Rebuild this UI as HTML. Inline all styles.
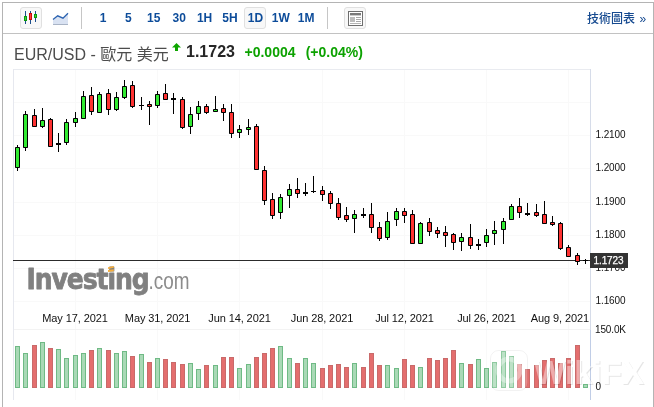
<!DOCTYPE html>
<html lang="zh-Hant">
<head>
<meta charset="utf-8">
<title>EUR/USD - 歐元 美元</title>
<style>
html,body{margin:0;padding:0;background:#fff;}
body{width:654px;height:407px;overflow:hidden;position:relative;font-family:"Liberation Sans","Noto Sans CJK TC",sans-serif;}
#frame{position:absolute;left:2px;top:2px;width:650px;height:420px;border:1px solid #b4b4b4;box-sizing:content-box;}
#bar{position:absolute;left:3px;top:3px;width:650px;height:30px;border-bottom:1px solid #c2c2c2;background:#fff;}
.btn{position:absolute;top:4px;width:20px;height:20px;border:1px solid #e0e0e0;border-radius:3px;background:#f8f8f8;}
.tf{position:absolute;top:4px;width:20px;height:20px;border:1px solid transparent;border-radius:3px;font-weight:bold;font-size:12px;line-height:21px;text-align:center;color:#0d4c9a;text-decoration:none;}
.tf.on{border-color:#e0e0e0;background:#f8f8f8;}
.sep{position:absolute;top:4px;width:1px;height:22px;background:#c6c6c6;}
#tech{position:absolute;left:584px;top:7px;font-size:12px;font-weight:500;line-height:18px;color:#164a90;white-space:nowrap;}
#tech i{position:absolute;left:52.5px;top:0;font-style:normal;}
#title{position:absolute;left:14px;top:40px;height:24px;white-space:nowrap;}
#title .nm{position:absolute;left:0;top:3px;font-size:16px;line-height:24px;color:#4c4c4c;}
#title .arr{position:absolute;left:158px;top:3px;width:9px;height:8px;}
#title .px{position:absolute;left:172px;top:0px;font-size:16px;font-weight:bold;line-height:24px;color:#262626;}
#title .ch{position:absolute;left:230.5px;top:0;font-size:14px;font-weight:bold;line-height:24px;color:#0ca200;}
#title .pc{position:absolute;left:291.7px;top:0;font-size:14px;font-weight:bold;line-height:24px;color:#0ca200;}
#chart{position:absolute;left:0;top:0;}
svg{display:block;}
</style>
</head>
<body>
<div id="frame"></div>
<div id="bar">
  <span class="btn" style="left:17px"><svg width="20" height="20" viewBox="0 0 20 20"><g shape-rendering="crispEdges"><rect x="4" y="3" width="1" height="13" fill="#1d4f8c"/><rect x="9" y="3" width="1" height="13" fill="#1d4f8c"/><rect x="14" y="3" width="1" height="11" fill="#1d4f8c"/><rect x="3" y="8" width="3" height="5" fill="#0a9a0a" /><rect x="4" y="9" width="1" height="3" fill="#3fd03f"/><rect x="8" y="5" width="3" height="7" fill="#cc0808"/><rect x="9" y="6" width="1" height="5" fill="#ff3a3a"/><rect x="13" y="6" width="3" height="4" fill="#0a9a0a"/><rect x="14" y="7" width="1" height="2" fill="#3fd03f"/></g></svg></span>
  <span class="ico" style="position:absolute;left:49px;top:8px"><svg width="18" height="15" viewBox="0 0 18 15"><path d="M1 8.5 L5.7 4.8 L11 7.2 L16 2.2 L16 14 L1 14 Z" fill="#d9e2f2"/><path d="M1 8.5 L5.7 4.8 L11 7.2 L16 2.2" fill="none" stroke="#2a62b0" stroke-width="1.3"/><rect x="1" y="13" width="15" height="1" fill="#a9b4c6"/></svg></span>
  <span class="sep" style="left:78px"></span>
  <a class="tf" style="left:89.0px">1</a><a class="tf" style="left:114.4px">5</a><a class="tf" style="left:139.8px">15</a><a class="tf" style="left:165.2px">30</a><a class="tf" style="left:190.6px">1H</a><a class="tf" style="left:216.0px">5H</a><a class="tf on" style="left:241.4px">1D</a><a class="tf" style="left:266.8px">1W</a><a class="tf" style="left:292.2px">1M</a>
  <span class="sep" style="left:324px"></span>
  <span class="btn" style="left:341px"><svg width="20" height="20" viewBox="0 0 20 20"><rect x="3.5" y="3.5" width="14" height="14" fill="#fff" stroke="#6e6e6e"/><rect x="5" y="5" width="11" height="2.4" fill="#7a7a7a"/><rect x="5" y="9" width="5" height="5" fill="#bdbdbd"/><rect x="11" y="9" width="5" height="1" fill="#a8a8a8"/><rect x="11" y="11" width="5" height="1" fill="#a8a8a8"/><rect x="11" y="13" width="5" height="1" fill="#a8a8a8"/><rect x="5" y="15" width="11" height="1" fill="#b5b5b5"/></svg></span>
  <a id="tech">技術圖表<i>»</i></a>
</div>
<div id="title">
  <span class="nm">EUR/USD - 歐元 美元</span>
  <span class="arr"><svg width="9" height="8" viewBox="0 0 9 8"><path d="M4.5 0 L9 4.5 L6 4.5 L6 8 L3 8 L3 4.5 L0 4.5 Z" fill="#0ea600"/></svg></span>
  <span class="px">1.1723</span>
  <span class="ch">+0.0004</span>
  <span class="pc">(+0.04%)</span>
</div>
<svg id="chart" width="654" height="407" viewBox="0 0 654 407">
<rect x="75" y="70" width="1" height="330" fill="#f9f9f9"/>
<rect x="157" y="70" width="1" height="330" fill="#f9f9f9"/>
<rect x="239" y="70" width="1" height="330" fill="#f9f9f9"/>
<rect x="322" y="70" width="1" height="330" fill="#f9f9f9"/>
<rect x="404" y="70" width="1" height="330" fill="#f9f9f9"/>
<rect x="486" y="70" width="1" height="330" fill="#f9f9f9"/>
<rect x="568" y="70" width="1" height="330" fill="#f9f9f9"/>
<rect x="14" y="102" width="576" height="1" fill="#f9f9f9"/>
<rect x="14" y="135" width="576" height="1" fill="#f9f9f9"/>
<rect x="14" y="168" width="576" height="1" fill="#f9f9f9"/>
<rect x="14" y="202" width="576" height="1" fill="#f9f9f9"/>
<rect x="14" y="235" width="576" height="1" fill="#f9f9f9"/>
<rect x="14" y="268" width="576" height="1" fill="#f9f9f9"/>
<rect x="14" y="301" width="576" height="1" fill="#f9f9f9"/>
<rect x="13" y="329" width="577" height="1" fill="#f3f3f3"/>
<rect x="13" y="69" width="578" height="1" fill="#e9ebf0"/>
<rect x="13" y="69" width="1" height="331" fill="#e6e8ef"/>
<rect x="590" y="69" width="1" height="261" fill="#d6dce9"/>
<rect x="590" y="330" width="1" height="70" fill="#c0cde6"/>
<rect x="15.5" y="346.5" width="4" height="41" fill="#a9d9b6" stroke="#6fba85" stroke-width="1"/>
<rect x="23.5" y="353.5" width="4" height="34" fill="#a9d9b6" stroke="#6fba85" stroke-width="1"/>
<rect x="32.5" y="345.5" width="4" height="42" fill="#e46e6e" stroke="#c96a6a" stroke-width="1"/>
<rect x="40.5" y="342.5" width="4" height="45" fill="#a9d9b6" stroke="#6fba85" stroke-width="1"/>
<rect x="48.5" y="348.5" width="4" height="39" fill="#e46e6e" stroke="#c96a6a" stroke-width="1"/>
<rect x="56.5" y="349.5" width="4" height="38" fill="#a9d9b6" stroke="#6fba85" stroke-width="1"/>
<rect x="64.5" y="358.5" width="4" height="29" fill="#a9d9b6" stroke="#6fba85" stroke-width="1"/>
<rect x="73.5" y="355.5" width="4" height="32" fill="#a9d9b6" stroke="#6fba85" stroke-width="1"/>
<rect x="81.5" y="353.5" width="4" height="34" fill="#a9d9b6" stroke="#6fba85" stroke-width="1"/>
<rect x="89.5" y="350.5" width="4" height="37" fill="#e46e6e" stroke="#c96a6a" stroke-width="1"/>
<rect x="97.5" y="348.5" width="4" height="39" fill="#a9d9b6" stroke="#6fba85" stroke-width="1"/>
<rect x="106.5" y="350.5" width="4" height="37" fill="#e46e6e" stroke="#c96a6a" stroke-width="1"/>
<rect x="114.5" y="353.5" width="4" height="34" fill="#a9d9b6" stroke="#6fba85" stroke-width="1"/>
<rect x="122.5" y="351.5" width="4" height="36" fill="#a9d9b6" stroke="#6fba85" stroke-width="1"/>
<rect x="130.5" y="356.5" width="4" height="31" fill="#e46e6e" stroke="#c96a6a" stroke-width="1"/>
<rect x="139.5" y="354.5" width="4" height="33" fill="#a9d9b6" stroke="#6fba85" stroke-width="1"/>
<rect x="147.5" y="362.5" width="4" height="25" fill="#e46e6e" stroke="#c96a6a" stroke-width="1"/>
<rect x="155.5" y="358.5" width="4" height="29" fill="#a9d9b6" stroke="#6fba85" stroke-width="1"/>
<rect x="163.5" y="359.5" width="4" height="28" fill="#e46e6e" stroke="#c96a6a" stroke-width="1"/>
<rect x="171.5" y="362.5" width="4" height="25" fill="#e46e6e" stroke="#c96a6a" stroke-width="1"/>
<rect x="180.5" y="364.5" width="4" height="23" fill="#e46e6e" stroke="#c96a6a" stroke-width="1"/>
<rect x="188.5" y="363.5" width="4" height="24" fill="#a9d9b6" stroke="#6fba85" stroke-width="1"/>
<rect x="196.5" y="369.5" width="4" height="18" fill="#a9d9b6" stroke="#6fba85" stroke-width="1"/>
<rect x="204.5" y="365.5" width="4" height="22" fill="#e46e6e" stroke="#c96a6a" stroke-width="1"/>
<rect x="213.5" y="365.5" width="4" height="22" fill="#a9d9b6" stroke="#6fba85" stroke-width="1"/>
<rect x="221.5" y="357.5" width="4" height="30" fill="#e46e6e" stroke="#c96a6a" stroke-width="1"/>
<rect x="229.5" y="357.5" width="4" height="30" fill="#e46e6e" stroke="#c96a6a" stroke-width="1"/>
<rect x="237.5" y="368.5" width="4" height="19" fill="#a9d9b6" stroke="#6fba85" stroke-width="1"/>
<rect x="246.5" y="364.5" width="4" height="23" fill="#a9d9b6" stroke="#6fba85" stroke-width="1"/>
<rect x="254.5" y="357.5" width="4" height="30" fill="#e46e6e" stroke="#c96a6a" stroke-width="1"/>
<rect x="262.5" y="353.5" width="4" height="34" fill="#e46e6e" stroke="#c96a6a" stroke-width="1"/>
<rect x="270.5" y="348.5" width="4" height="39" fill="#e46e6e" stroke="#c96a6a" stroke-width="1"/>
<rect x="278.5" y="346.5" width="4" height="41" fill="#a9d9b6" stroke="#6fba85" stroke-width="1"/>
<rect x="287.5" y="358.5" width="4" height="29" fill="#a9d9b6" stroke="#6fba85" stroke-width="1"/>
<rect x="295.5" y="363.5" width="4" height="24" fill="#e46e6e" stroke="#c96a6a" stroke-width="1"/>
<rect x="303.5" y="358.5" width="4" height="29" fill="#a9d9b6" stroke="#6fba85" stroke-width="1"/>
<rect x="311.5" y="363.5" width="4" height="24" fill="#a9d9b6" stroke="#6fba85" stroke-width="1"/>
<rect x="320.5" y="368.5" width="4" height="19" fill="#e46e6e" stroke="#c96a6a" stroke-width="1"/>
<rect x="328.5" y="365.5" width="4" height="22" fill="#e46e6e" stroke="#c96a6a" stroke-width="1"/>
<rect x="336.5" y="364.5" width="4" height="23" fill="#e46e6e" stroke="#c96a6a" stroke-width="1"/>
<rect x="344.5" y="367.5" width="4" height="20" fill="#e46e6e" stroke="#c96a6a" stroke-width="1"/>
<rect x="352.5" y="363.5" width="4" height="24" fill="#a9d9b6" stroke="#6fba85" stroke-width="1"/>
<rect x="361.5" y="367.5" width="4" height="20" fill="#e46e6e" stroke="#c96a6a" stroke-width="1"/>
<rect x="369.5" y="353.5" width="4" height="34" fill="#e46e6e" stroke="#c96a6a" stroke-width="1"/>
<rect x="377.5" y="365.5" width="4" height="22" fill="#e46e6e" stroke="#c96a6a" stroke-width="1"/>
<rect x="385.5" y="365.5" width="4" height="22" fill="#a9d9b6" stroke="#6fba85" stroke-width="1"/>
<rect x="394.5" y="368.5" width="4" height="19" fill="#a9d9b6" stroke="#6fba85" stroke-width="1"/>
<rect x="402.5" y="359.5" width="4" height="28" fill="#e46e6e" stroke="#c96a6a" stroke-width="1"/>
<rect x="410.5" y="365.5" width="4" height="22" fill="#e46e6e" stroke="#c96a6a" stroke-width="1"/>
<rect x="418.5" y="367.5" width="4" height="20" fill="#a9d9b6" stroke="#6fba85" stroke-width="1"/>
<rect x="427.5" y="358.5" width="4" height="29" fill="#e46e6e" stroke="#c96a6a" stroke-width="1"/>
<rect x="435.5" y="360.5" width="4" height="27" fill="#e46e6e" stroke="#c96a6a" stroke-width="1"/>
<rect x="443.5" y="358.5" width="4" height="29" fill="#e46e6e" stroke="#c96a6a" stroke-width="1"/>
<rect x="451.5" y="350.5" width="4" height="37" fill="#e46e6e" stroke="#c96a6a" stroke-width="1"/>
<rect x="459.5" y="363.5" width="4" height="24" fill="#a9d9b6" stroke="#6fba85" stroke-width="1"/>
<rect x="468.5" y="364.5" width="4" height="23" fill="#e46e6e" stroke="#c96a6a" stroke-width="1"/>
<rect x="476.5" y="359.5" width="4" height="28" fill="#a9d9b6" stroke="#6fba85" stroke-width="1"/>
<rect x="484.5" y="368.5" width="4" height="19" fill="#a9d9b6" stroke="#6fba85" stroke-width="1"/>
<rect x="492.5" y="362.5" width="4" height="25" fill="#a9d9b6" stroke="#6fba85" stroke-width="1"/>
<rect x="501.5" y="351.5" width="4" height="36" fill="#a9d9b6" stroke="#6fba85" stroke-width="1"/>
<rect x="509.5" y="356.5" width="4" height="31" fill="#a9d9b6" stroke="#6fba85" stroke-width="1"/>
<rect x="517.5" y="364.5" width="4" height="23" fill="#e46e6e" stroke="#c96a6a" stroke-width="1"/>
<rect x="525.5" y="369.5" width="4" height="18" fill="#e46e6e" stroke="#c96a6a" stroke-width="1"/>
<rect x="534.5" y="365.5" width="4" height="22" fill="#e46e6e" stroke="#c96a6a" stroke-width="1"/>
<rect x="542.5" y="360.5" width="4" height="27" fill="#e46e6e" stroke="#c96a6a" stroke-width="1"/>
<rect x="550.5" y="358.5" width="4" height="29" fill="#e46e6e" stroke="#c96a6a" stroke-width="1"/>
<rect x="558.5" y="363.5" width="4" height="24" fill="#e46e6e" stroke="#c96a6a" stroke-width="1"/>
<rect x="566.5" y="358.5" width="4" height="29" fill="#e46e6e" stroke="#c96a6a" stroke-width="1"/>
<rect x="575.5" y="345.5" width="4" height="42" fill="#e46e6e" stroke="#c96a6a" stroke-width="1"/>
<rect x="583.5" y="384.5" width="4" height="3" fill="#a9d9b6" stroke="#6fba85" stroke-width="1"/>
<g id="logo"><text transform="translate(26.4,288.9) scale(0.897,1)" x="0" y="0" font-family="'DejaVu Sans','Liberation Sans',sans-serif" font-weight="bold" font-size="28" letter-spacing="-1.2" fill="#808080" stroke="#808080" stroke-width="0.8" stroke-linejoin="round">Investing</text><text x="148.5" y="288.9" font-family="'Liberation Sans',sans-serif" font-size="24" fill="#8c8c8c" textLength="41" lengthAdjust="spacingAndGlyphs">.com</text><path d="M108 267.2 L113.8 266 L113.8 267.8 L108 269 Z M108 270 L113.8 269.2 L113.8 271.3 L108 272 Z" fill="#f6ae3c"/></g>
<rect x="13" y="260" width="577" height="1" fill="#2b2b2b"/>
<rect x="17" y="145" width="1" height="26" fill="#000"/>
<rect x="15" y="147" width="5" height="21" rx="0.8" fill="#000"/>
<rect x="16" y="148" width="3" height="19" fill="#32ea32"/>
<rect x="25" y="111" width="1" height="40" fill="#000"/>
<rect x="23" y="114" width="5" height="34" rx="0.8" fill="#000"/>
<rect x="24" y="115" width="3" height="32" fill="#32ea32"/>
<rect x="34" y="109" width="1" height="18" fill="#000"/>
<rect x="32" y="115" width="5" height="12" rx="0.8" fill="#000"/>
<rect x="33" y="116" width="3" height="10" fill="#fe3232"/>
<rect x="42" y="108" width="1" height="20" fill="#000"/>
<rect x="40" y="120" width="5" height="7" rx="0.8" fill="#000"/>
<rect x="41" y="121" width="3" height="5" fill="#32ea32"/>
<rect x="50" y="118" width="1" height="29" fill="#000"/>
<rect x="48" y="119" width="5" height="28" rx="0.8" fill="#000"/>
<rect x="49" y="120" width="3" height="26" fill="#fe3232"/>
<rect x="58" y="133" width="1" height="19" fill="#000"/>
<rect x="56" y="143" width="5" height="2" fill="#000"/>
<rect x="66" y="119" width="1" height="26" fill="#000"/>
<rect x="64" y="122" width="5" height="21" rx="0.8" fill="#000"/>
<rect x="65" y="123" width="3" height="19" fill="#32ea32"/>
<rect x="75" y="112" width="1" height="15" fill="#000"/>
<rect x="73" y="118" width="5" height="5" rx="0.8" fill="#000"/>
<rect x="74" y="119" width="3" height="3" fill="#32ea32"/>
<rect x="83" y="91" width="1" height="28" fill="#000"/>
<rect x="81" y="96" width="5" height="23" rx="0.8" fill="#000"/>
<rect x="82" y="97" width="3" height="21" fill="#32ea32"/>
<rect x="91" y="87" width="1" height="28" fill="#000"/>
<rect x="89" y="95" width="5" height="17" rx="0.8" fill="#000"/>
<rect x="90" y="96" width="3" height="15" fill="#fe3232"/>
<rect x="99" y="92" width="1" height="21" fill="#000"/>
<rect x="97" y="94" width="5" height="19" rx="0.8" fill="#000"/>
<rect x="98" y="95" width="3" height="17" fill="#32ea32"/>
<rect x="108" y="89" width="1" height="26" fill="#000"/>
<rect x="106" y="93" width="5" height="17" rx="0.8" fill="#000"/>
<rect x="107" y="94" width="3" height="15" fill="#fe3232"/>
<rect x="116" y="92" width="1" height="19" fill="#000"/>
<rect x="114" y="97" width="5" height="13" rx="0.8" fill="#000"/>
<rect x="115" y="98" width="3" height="11" fill="#32ea32"/>
<rect x="124" y="80" width="1" height="19" fill="#000"/>
<rect x="122" y="86" width="5" height="12" rx="0.8" fill="#000"/>
<rect x="123" y="87" width="3" height="10" fill="#32ea32"/>
<rect x="132" y="81" width="1" height="27" fill="#000"/>
<rect x="130" y="85" width="5" height="22" rx="0.8" fill="#000"/>
<rect x="131" y="86" width="3" height="20" fill="#fe3232"/>
<rect x="141" y="97" width="1" height="13" fill="#000"/>
<rect x="139" y="105" width="5" height="1" fill="#000"/>
<rect x="149" y="101" width="1" height="24" fill="#000"/>
<rect x="147" y="104" width="5" height="3" rx="0.8" fill="#000"/>
<rect x="148" y="105" width="3" height="1" fill="#fe3232"/>
<rect x="157" y="91" width="1" height="17" fill="#000"/>
<rect x="155" y="94" width="5" height="12" rx="0.8" fill="#000"/>
<rect x="156" y="95" width="3" height="10" fill="#32ea32"/>
<rect x="165" y="84" width="1" height="16" fill="#000"/>
<rect x="163" y="93" width="5" height="7" rx="0.8" fill="#000"/>
<rect x="164" y="94" width="3" height="5" fill="#fe3232"/>
<rect x="173" y="93" width="1" height="21" fill="#000"/>
<rect x="171" y="98" width="5" height="2" fill="#000"/>
<rect x="182" y="97" width="1" height="32" fill="#000"/>
<rect x="180" y="99" width="5" height="29" rx="0.8" fill="#000"/>
<rect x="181" y="100" width="3" height="27" fill="#fe3232"/>
<rect x="190" y="107" width="1" height="27" fill="#000"/>
<rect x="188" y="114" width="5" height="13" rx="0.8" fill="#000"/>
<rect x="189" y="115" width="3" height="11" fill="#32ea32"/>
<rect x="198" y="101" width="1" height="19" fill="#000"/>
<rect x="196" y="106" width="5" height="8" rx="0.8" fill="#000"/>
<rect x="197" y="107" width="3" height="6" fill="#32ea32"/>
<rect x="206" y="104" width="1" height="10" fill="#000"/>
<rect x="204" y="106" width="5" height="7" rx="0.8" fill="#000"/>
<rect x="205" y="107" width="3" height="5" fill="#fe3232"/>
<rect x="215" y="96" width="1" height="16" fill="#000"/>
<rect x="213" y="109" width="5" height="3" rx="0.8" fill="#000"/>
<rect x="214" y="110" width="3" height="1" fill="#32ea32"/>
<rect x="223" y="104" width="1" height="17" fill="#000"/>
<rect x="221" y="108" width="5" height="5" rx="0.8" fill="#000"/>
<rect x="222" y="109" width="3" height="3" fill="#fe3232"/>
<rect x="231" y="104" width="1" height="34" fill="#000"/>
<rect x="229" y="112" width="5" height="22" rx="0.8" fill="#000"/>
<rect x="230" y="113" width="3" height="20" fill="#fe3232"/>
<rect x="239" y="125" width="1" height="13" fill="#000"/>
<rect x="237" y="129" width="5" height="4" rx="0.8" fill="#000"/>
<rect x="238" y="130" width="3" height="2" fill="#32ea32"/>
<rect x="248" y="119" width="1" height="16" fill="#000"/>
<rect x="246" y="127" width="5" height="3" rx="0.8" fill="#000"/>
<rect x="247" y="128" width="3" height="1" fill="#32ea32"/>
<rect x="256" y="124" width="1" height="46" fill="#000"/>
<rect x="254" y="126" width="5" height="44" rx="0.8" fill="#000"/>
<rect x="255" y="127" width="3" height="42" fill="#fe3232"/>
<rect x="264" y="166" width="1" height="39" fill="#000"/>
<rect x="262" y="170" width="5" height="31" rx="0.8" fill="#000"/>
<rect x="263" y="171" width="3" height="29" fill="#fe3232"/>
<rect x="272" y="193" width="1" height="26" fill="#000"/>
<rect x="270" y="199" width="5" height="17" rx="0.8" fill="#000"/>
<rect x="271" y="200" width="3" height="15" fill="#fe3232"/>
<rect x="280" y="194" width="1" height="25" fill="#000"/>
<rect x="278" y="197" width="5" height="16" rx="0.8" fill="#000"/>
<rect x="279" y="198" width="3" height="14" fill="#32ea32"/>
<rect x="289" y="184" width="1" height="24" fill="#000"/>
<rect x="287" y="189" width="5" height="7" rx="0.8" fill="#000"/>
<rect x="288" y="190" width="3" height="5" fill="#32ea32"/>
<rect x="297" y="178" width="1" height="20" fill="#000"/>
<rect x="295" y="189" width="5" height="5" rx="0.8" fill="#000"/>
<rect x="296" y="190" width="3" height="3" fill="#fe3232"/>
<rect x="305" y="183" width="1" height="13" fill="#000"/>
<rect x="303" y="192" width="5" height="2" fill="#000"/>
<rect x="313" y="176" width="1" height="17" fill="#000"/>
<rect x="311" y="191" width="5" height="1" fill="#000"/>
<rect x="322" y="186" width="1" height="15" fill="#000"/>
<rect x="320" y="190" width="5" height="5" rx="0.8" fill="#000"/>
<rect x="321" y="191" width="3" height="3" fill="#fe3232"/>
<rect x="330" y="191" width="1" height="18" fill="#000"/>
<rect x="328" y="193" width="5" height="11" rx="0.8" fill="#000"/>
<rect x="329" y="194" width="3" height="9" fill="#fe3232"/>
<rect x="338" y="198" width="1" height="22" fill="#000"/>
<rect x="336" y="203" width="5" height="15" rx="0.8" fill="#000"/>
<rect x="337" y="204" width="3" height="13" fill="#fe3232"/>
<rect x="346" y="207" width="1" height="15" fill="#000"/>
<rect x="344" y="215" width="5" height="5" rx="0.8" fill="#000"/>
<rect x="345" y="216" width="3" height="3" fill="#fe3232"/>
<rect x="354" y="210" width="1" height="23" fill="#000"/>
<rect x="352" y="214" width="5" height="5" rx="0.8" fill="#000"/>
<rect x="353" y="215" width="3" height="3" fill="#32ea32"/>
<rect x="363" y="208" width="1" height="10" fill="#000"/>
<rect x="361" y="214" width="5" height="2" fill="#000"/>
<rect x="371" y="203" width="1" height="30" fill="#000"/>
<rect x="369" y="214" width="5" height="14" rx="0.8" fill="#000"/>
<rect x="370" y="215" width="3" height="12" fill="#fe3232"/>
<rect x="379" y="222" width="1" height="19" fill="#000"/>
<rect x="377" y="227" width="5" height="12" rx="0.8" fill="#000"/>
<rect x="378" y="228" width="3" height="10" fill="#fe3232"/>
<rect x="387" y="212" width="1" height="28" fill="#000"/>
<rect x="385" y="221" width="5" height="17" rx="0.8" fill="#000"/>
<rect x="386" y="222" width="3" height="15" fill="#32ea32"/>
<rect x="396" y="208" width="1" height="18" fill="#000"/>
<rect x="394" y="211" width="5" height="9" rx="0.8" fill="#000"/>
<rect x="395" y="212" width="3" height="7" fill="#32ea32"/>
<rect x="404" y="208" width="1" height="15" fill="#000"/>
<rect x="402" y="211" width="5" height="5" rx="0.8" fill="#000"/>
<rect x="403" y="212" width="3" height="3" fill="#fe3232"/>
<rect x="412" y="210" width="1" height="34" fill="#000"/>
<rect x="410" y="214" width="5" height="30" rx="0.8" fill="#000"/>
<rect x="411" y="215" width="3" height="28" fill="#fe3232"/>
<rect x="420" y="222" width="1" height="22" fill="#000"/>
<rect x="418" y="223" width="5" height="21" rx="0.8" fill="#000"/>
<rect x="419" y="224" width="3" height="19" fill="#32ea32"/>
<rect x="429" y="218" width="1" height="18" fill="#000"/>
<rect x="427" y="222" width="5" height="10" rx="0.8" fill="#000"/>
<rect x="428" y="223" width="3" height="8" fill="#fe3232"/>
<rect x="437" y="227" width="1" height="11" fill="#000"/>
<rect x="435" y="230" width="5" height="4" rx="0.8" fill="#000"/>
<rect x="436" y="231" width="3" height="2" fill="#fe3232"/>
<rect x="445" y="226" width="1" height="21" fill="#000"/>
<rect x="443" y="232" width="5" height="4" rx="0.8" fill="#000"/>
<rect x="444" y="233" width="3" height="2" fill="#fe3232"/>
<rect x="453" y="233" width="1" height="17" fill="#000"/>
<rect x="451" y="234" width="5" height="9" rx="0.8" fill="#000"/>
<rect x="452" y="235" width="3" height="7" fill="#fe3232"/>
<rect x="461" y="233" width="1" height="18" fill="#000"/>
<rect x="459" y="237" width="5" height="5" rx="0.8" fill="#000"/>
<rect x="460" y="238" width="3" height="3" fill="#32ea32"/>
<rect x="470" y="224" width="1" height="25" fill="#000"/>
<rect x="468" y="237" width="5" height="9" rx="0.8" fill="#000"/>
<rect x="469" y="238" width="3" height="7" fill="#fe3232"/>
<rect x="478" y="239" width="1" height="11" fill="#000"/>
<rect x="476" y="244" width="5" height="2" fill="#000"/>
<rect x="486" y="229" width="1" height="18" fill="#000"/>
<rect x="484" y="235" width="5" height="8" rx="0.8" fill="#000"/>
<rect x="485" y="236" width="3" height="6" fill="#32ea32"/>
<rect x="494" y="221" width="1" height="24" fill="#000"/>
<rect x="492" y="230" width="5" height="4" rx="0.8" fill="#000"/>
<rect x="493" y="231" width="3" height="2" fill="#32ea32"/>
<rect x="503" y="218" width="1" height="26" fill="#000"/>
<rect x="501" y="221" width="5" height="9" rx="0.8" fill="#000"/>
<rect x="502" y="222" width="3" height="7" fill="#32ea32"/>
<rect x="511" y="204" width="1" height="16" fill="#000"/>
<rect x="509" y="206" width="5" height="14" rx="0.8" fill="#000"/>
<rect x="510" y="207" width="3" height="12" fill="#32ea32"/>
<rect x="519" y="198" width="1" height="20" fill="#000"/>
<rect x="517" y="206" width="5" height="7" rx="0.8" fill="#000"/>
<rect x="518" y="207" width="3" height="5" fill="#fe3232"/>
<rect x="527" y="203" width="1" height="13" fill="#000"/>
<rect x="525" y="213" width="5" height="2" fill="#000"/>
<rect x="536" y="204" width="1" height="13" fill="#000"/>
<rect x="534" y="212" width="5" height="4" rx="0.8" fill="#000"/>
<rect x="535" y="213" width="3" height="2" fill="#fe3232"/>
<rect x="544" y="201" width="1" height="23" fill="#000"/>
<rect x="542" y="214" width="5" height="10" rx="0.8" fill="#000"/>
<rect x="543" y="215" width="3" height="8" fill="#fe3232"/>
<rect x="552" y="216" width="1" height="10" fill="#000"/>
<rect x="550" y="222" width="5" height="3" rx="0.8" fill="#000"/>
<rect x="551" y="223" width="3" height="1" fill="#fe3232"/>
<rect x="560" y="222" width="1" height="28" fill="#000"/>
<rect x="558" y="223" width="5" height="26" rx="0.8" fill="#000"/>
<rect x="559" y="224" width="3" height="24" fill="#fe3232"/>
<rect x="568" y="245" width="1" height="12" fill="#000"/>
<rect x="566" y="247" width="5" height="10" rx="0.8" fill="#000"/>
<rect x="567" y="248" width="3" height="8" fill="#fe3232"/>
<rect x="577" y="253" width="1" height="12" fill="#000"/>
<rect x="575" y="255" width="5" height="7" rx="0.8" fill="#000"/>
<rect x="576" y="256" width="3" height="5" fill="#fe3232"/>
<rect x="585" y="259" width="1" height="5" fill="#000"/>
<rect x="583" y="260" width="5" height="1" fill="#000"/>
<text x="595.6" y="138.1" font-family="'Liberation Sans',sans-serif" font-size="10" letter-spacing="-0.13" fill="#111">1.2100</text>
<text x="595.6" y="171.3" font-family="'Liberation Sans',sans-serif" font-size="10" letter-spacing="-0.13" fill="#111">1.2000</text>
<text x="595.6" y="204.5" font-family="'Liberation Sans',sans-serif" font-size="10" letter-spacing="-0.13" fill="#111">1.1900</text>
<text x="595.6" y="237.7" font-family="'Liberation Sans',sans-serif" font-size="10" letter-spacing="-0.13" fill="#111">1.1800</text>
<text x="595.6" y="270.9" font-family="'Liberation Sans',sans-serif" font-size="10" letter-spacing="-0.13" fill="#111">1.1700</text>
<text x="595.6" y="304.1" font-family="'Liberation Sans',sans-serif" font-size="10" letter-spacing="-0.13" fill="#111">1.1600</text>
<text x="595" y="333" font-family="'Liberation Sans',sans-serif" font-size="10" letter-spacing="-0.13" fill="#111">150.0K</text>
<rect x="590" y="253" width="38" height="15" fill="#333"/>
<text x="593.6" y="264.2" font-family="'Liberation Sans',sans-serif" font-size="10" letter-spacing="-0.13" fill="#fff" stroke="#fff" stroke-width="0.25">1.1723</text>
<text x="75" y="322" font-family="'Liberation Sans',sans-serif" font-size="11" letter-spacing="-0.1" fill="#111" text-anchor="middle">May 17, 2021</text>
<text x="157.6" y="322" font-family="'Liberation Sans',sans-serif" font-size="11" letter-spacing="-0.1" fill="#111" text-anchor="middle">May 31, 2021</text>
<text x="239.5" y="322" font-family="'Liberation Sans',sans-serif" font-size="11" letter-spacing="-0.1" fill="#111" text-anchor="middle">Jun 14, 2021</text>
<text x="322" y="322" font-family="'Liberation Sans',sans-serif" font-size="11" letter-spacing="-0.1" fill="#111" text-anchor="middle">Jun 28, 2021</text>
<text x="404.5" y="322" font-family="'Liberation Sans',sans-serif" font-size="11" letter-spacing="-0.1" fill="#111" text-anchor="middle">Jul 12, 2021</text>
<text x="486.5" y="322" font-family="'Liberation Sans',sans-serif" font-size="11" letter-spacing="-0.1" fill="#111" text-anchor="middle">Jul 26, 2021</text>
<text x="589" y="322" font-family="'Liberation Sans',sans-serif" font-size="11" letter-spacing="-0.1" fill="#111" text-anchor="end">Aug 9, 2021</text>
<defs><filter id="wmf" x="-5%" y="-10%" width="110%" height="120%" color-interpolation-filters="sRGB"><feOffset in="SourceAlpha" dx="0.9" dy="0.9" result="o"/><feComposite in="o" in2="SourceAlpha" operator="out" result="edge"/><feColorMatrix in="edge" type="matrix" values="0 0 0 0 0  0 0 0 0 0  0 0 0 0 0  0 0 0 0.1 0" result="sh"/><feColorMatrix in="SourceGraphic" type="matrix" values="1 0 0 0 0  0 1 0 0 0  0 0 1 0 0  0 0 0 0.42 0" result="body"/><feMerge><feMergeNode in="sh"/><feMergeNode in="body"/></feMerge></filter></defs>
<g id="wm"><rect x="490.5" y="350.5" width="37" height="40" rx="8" fill="#fff" fill-opacity="0.22" stroke="#000" stroke-opacity="0.05"/><circle cx="509" cy="370" r="11" fill="none" stroke="#fff" stroke-opacity="0.35" stroke-width="5"/><text x="534" y="384.2" font-family="'Liberation Sans',sans-serif" font-weight="bold" font-size="34" textLength="110" lengthAdjust="spacingAndGlyphs" fill="#fff" filter="url(#wmf)">WikiFX</text></g>
<text x="595.6" y="390" font-family="'Liberation Sans',sans-serif" font-size="10" letter-spacing="-0.13" fill="#111">0</text>
</svg>
</body>
</html>
